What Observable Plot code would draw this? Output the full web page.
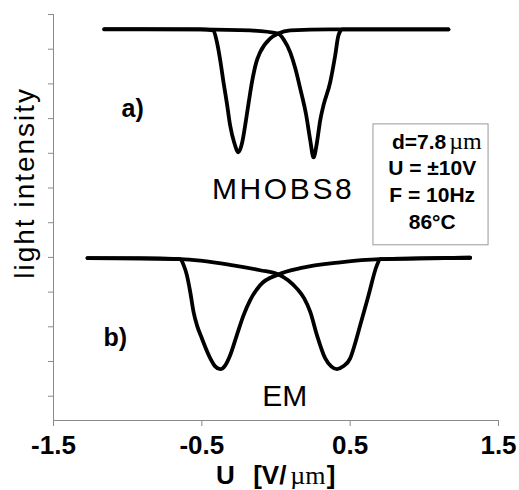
<!DOCTYPE html>
<html><head><meta charset="utf-8">
<script src="https://cdn.jsdelivr.net/npm/d3@7"></script>
<script src="https://cdn.jsdelivr.net/npm/@observablehq/plot@0.6"></script>
<style>html,body{margin:0;padding:0;background:#fff;}</style>
</head><body><div id="chart"></div>
<script>
// Tick values
const xTicks = [-1.5, -0.5, 0.5, 1.5];
const yTicks = [0, 1, 2, 3, 4, 5, 6, 7, 8, 9, 10, 11];

// a) MHOBS8 – sweep with minimum at negative U
const mhobs8Left = [
  [-1.158, 10.57], [-0.847, 10.57], [-0.511, 10.57], [-0.423, 10.54], [-0.398, 10.20],
  [-0.376, 9.68], [-0.354, 9.05], [-0.331, 8.44], [-0.309, 7.80], [-0.282, 7.31],
  [-0.253, 7.03], [-0.228, 7.31], [-0.208, 7.80], [-0.185, 8.44], [-0.162, 9.05],
  [-0.133, 9.62], [-0.107, 9.91], [-0.038, 10.31], [0.015, 10.45], [0.096, 10.54],
  [0.365, 10.57], [0.837, 10.57], [1.163, 10.57]
];
// a) MHOBS8 – sweep with minimum at positive U
const mhobs8Right = [
  [-1.158, 10.58], [-0.511, 10.57], [-0.174, 10.54], [0.015, 10.45], [0.056, 10.25],
  [0.096, 9.91], [0.130, 9.45], [0.163, 8.87], [0.204, 8.09], [0.231, 7.37],
  [0.253, 6.88], [0.276, 7.31], [0.298, 7.95], [0.320, 8.38], [0.365, 9.04],
  [0.399, 9.82], [0.421, 10.40], [0.447, 10.57], [0.837, 10.57], [1.163, 10.57]
];
// b) EM – sweep with minimum at negative U
const emLeft = [
  [-1.271, 3.98], [-0.916, 3.98], [-0.646, 3.95], [-0.622, 3.77], [-0.601, 3.49],
  [-0.578, 3.00], [-0.556, 2.43], [-0.531, 2.02], [-0.500, 1.67], [-0.444, 1.10],
  [-0.410, 0.86], [-0.376, 0.78], [-0.342, 0.89], [-0.309, 1.18], [-0.264, 1.76],
  [-0.219, 2.33], [-0.174, 2.77], [-0.107, 3.20], [0.017, 3.51], [0.163, 3.69],
  [0.433, 3.86], [0.702, 3.95], [0.972, 3.97], [1.309, 3.99]
];
// b) EM – sweep with minimum at positive U
const emRight = [
  [-1.271, 3.98], [-0.646, 3.95], [-0.289, 3.77], [-0.107, 3.63], [0.017, 3.51],
  [0.141, 3.10], [0.190, 2.82], [0.231, 2.43], [0.276, 1.76], [0.332, 1.09],
  [0.372, 0.86], [0.411, 0.78], [0.453, 0.86], [0.500, 1.09], [0.534, 1.53],
  [0.568, 2.05], [0.624, 2.91], [0.680, 3.77], [0.702, 3.95], [0.972, 3.97], [1.309, 3.99]
];

// Text content
const panelLabels = ["a)", "b)"];
const boxLines = ["U = ±10V", "F = 10Hz", "86°C"];
const yLabel = "light intensity";

const SANS = "'Liberation Sans', Arial, Helvetica, sans-serif";
const SERIF = "'Liberation Serif', 'Times New Roman', serif";
const GREY = "#8a8a8a";

const line = (data) => Plot.line(data, {
  x: d => d[0], y: d => d[1], stroke: "black", strokeWidth: 3.8,
  curve: "monotone-x", strokeLinejoin: "round", strokeLinecap: "round"
});

const svg = Plot.plot({
  width: 519, height: 490,
  marginLeft: 53, marginRight: 21, marginTop: 14, marginBottom: 70,
  style: {fontFamily: SANS, background: "white", color: "black"},
  x: {domain: [-1.5, 1.5]},
  y: {domain: [-0.7, 11]},
  marks: [
    Plot.ruleX([-1.5], {stroke: GREY}),
    Plot.ruleY([-0.7], {stroke: GREY}),
    Plot.axisY({ticks: yTicks, tickSize: 5, tickFormat: () => "", stroke: GREY, label: null}),
    Plot.axisX({ticks: xTicks, tickSize: 6, tickPadding: 9, tickFormat: d => d.toFixed(1),
      fontSize: 26, fontWeight: "bold", stroke: GREY, fill: "black", label: null}),
    line(mhobs8Left), line(mhobs8Right), line(emLeft), line(emRight),
    // panel labels
    Plot.text(panelLabels, {x: (d, i) => [-0.966, -1.084][i], y: (d, i) => [8.034, 1.441][i],
      lineAnchor: "bottom", fontSize: 25, fontWeight: "bold", fill: "black"}),
    // sample names
    Plot.text(["MHOBS8"], {x: 0.048, y: 5.693, lineAnchor: "bottom", fontSize: 30, fill: "black"}),
    Plot.text(["EM"], {x: 0.059, y: -0.287, lineAnchor: "bottom", fontSize: 30, fill: "black"}),
    // info box
    Plot.rect([0], {x1: 0.657, x2: 1.433, y1: 4.349, y2: 7.833, fill: "white", stroke: "#9a9a9a", strokeWidth: 1}),
    Plot.text(["d=7.8"], {x: 1.1475, y: 7.133, textAnchor: "end", lineAnchor: "bottom",
      fontSize: 21, fontWeight: "bold", fill: "black"}),
    Plot.text(["\u00b5m"], {x: 1.1677, y: 7.133, textAnchor: "start", lineAnchor: "bottom",
      fontSize: 24, fontFamily: SERIF, fill: "black"}),
    Plot.text(boxLines, {x: 1.053, y: (d, i) => [6.364, 5.595, 4.830][i], lineAnchor: "bottom",
      fontSize: 21, fontWeight: "bold", fill: "black"}),
    // y label
    Plot.text([yLabel], {frameAnchor: "left", y: 6.15, dx: -28, rotate: -90, lineAnchor: "middle",
      textAnchor: "middle", fontSize: 28, fill: "black"}),
    // x label: U  [V/μm]
    Plot.text(["U"], {x: -0.342, frameAnchor: "bottom", dy: 63, lineAnchor: "bottom",
      fontSize: 26, fontWeight: "bold", fill: "black"}),
    Plot.text(["[V/"], {x: -0.154, frameAnchor: "bottom", dy: 63, lineAnchor: "bottom", textAnchor: "start",
      fontSize: 26, fontWeight: "bold", fill: "black"}),
    Plot.text(["\u00b5m"], {x: 0.096, frameAnchor: "bottom", dy: 63, lineAnchor: "bottom", textAnchor: "start",
      fontSize: 26, fontFamily: SERIF, fill: "black"}),
    Plot.text(["]"], {x: 0.342, frameAnchor: "bottom", dy: 63, lineAnchor: "bottom", textAnchor: "start",
      fontSize: 26, fontWeight: "bold", fill: "black"})
  ]
});

// letter spacing on a few wide-set texts
const spacing = {"light intensity": "2px", "MHOBS8": "2.6px"};
d3.select(svg).selectAll("text").each(function() {
  const s = spacing[this.textContent];
  if (s) d3.select(this).style("letter-spacing", s);
});

document.getElementById("chart").appendChild(svg);
</script>
</body></html>
